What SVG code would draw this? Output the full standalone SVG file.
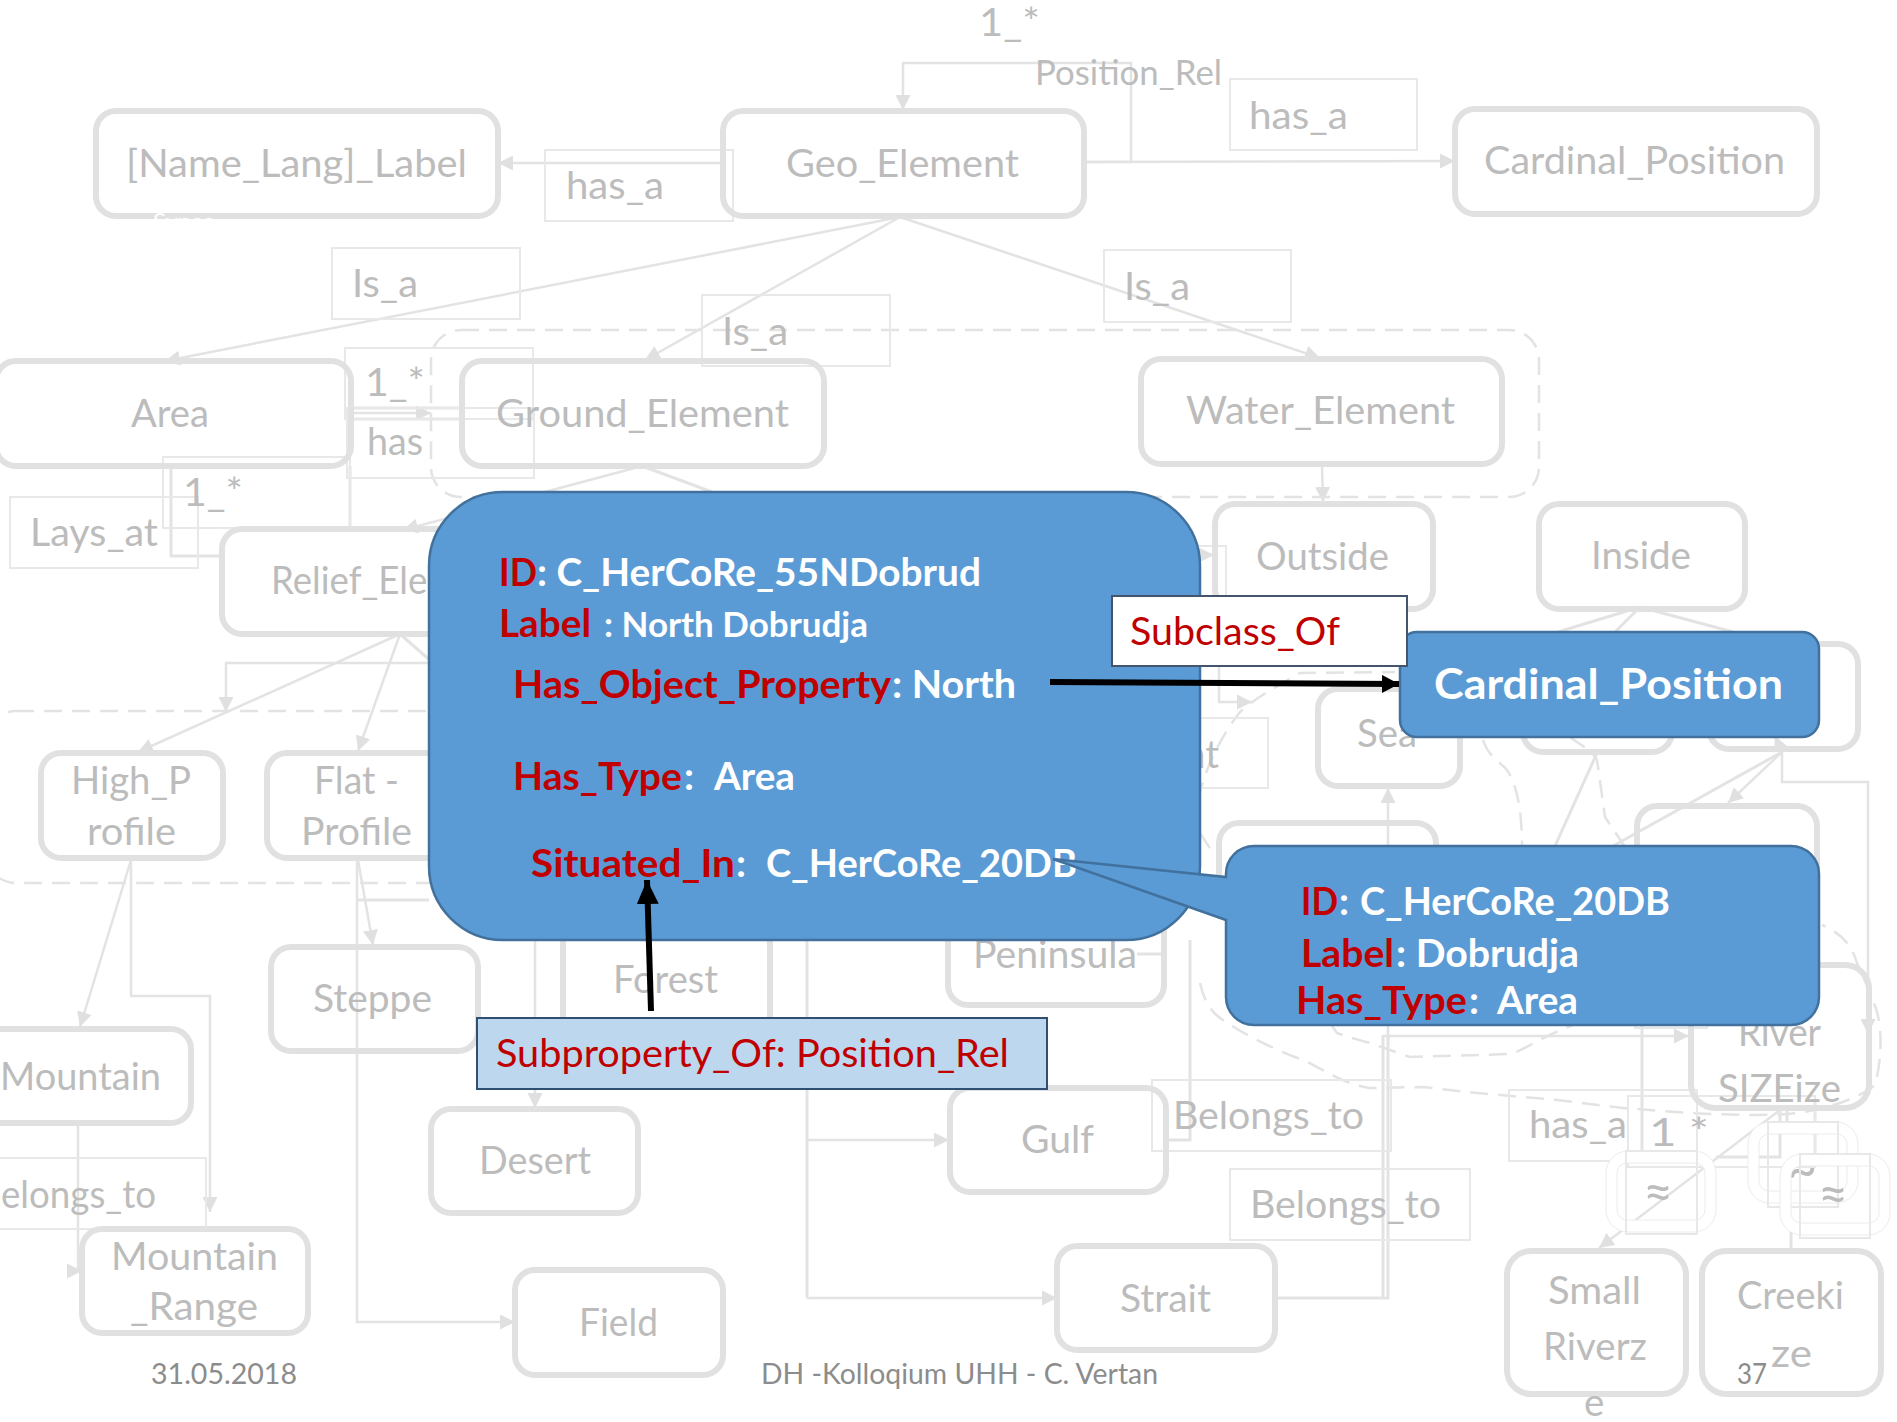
<svg xmlns="http://www.w3.org/2000/svg" width="1897" height="1422" viewBox="0 0 1897 1422">
<style>
text{font-family:"Lato","Liberation Sans",sans-serif}
.t{font-size:38.5px;fill:#bcbcbc}
.p{font-size:34px;fill:#bcbcbc}
.f{font-size:28px;fill:#8c8c8c}
.n{fill:none;stroke:#e1e1e1;stroke-width:6}
.b{fill:none;stroke:#e8e8e8;stroke-width:2}
.l{fill:none;stroke:#e3e3e3;stroke-width:3}
.h{fill:none;stroke:#e3e3e3;stroke-width:2.5;marker-end:url(#a)}
.d{fill:none;stroke:#e3e3e3;stroke-width:2.5;stroke-dasharray:18 10}
.k{fill:none;stroke:#000;stroke-width:6}
.w{font-size:39px;font-weight:700;fill:#fff}
.r{font-size:39px;font-weight:700;fill:#c00000}
.s{font-size:39px;fill:#c00000}
.u{fill:#5b9bd5;stroke:#41719c;stroke-width:2.5}
.g{fill:#fff;fill-rule:evenodd;stroke:#ececec;stroke-width:1}
.x{font-size:52px;fill:#bcbcbc}
</style>
<defs>
<marker id="a" viewBox="0 0 14 14" refX="14" refY="7" markerWidth="15" markerHeight="15" markerUnits="userSpaceOnUse" orient="auto"><path d="M0,0L14,7L0,14z" fill="#e0e0e0"/></marker>
<marker id="kr" viewBox="0 0 17 18" refX="17" refY="9" markerWidth="17" markerHeight="18" markerUnits="userSpaceOnUse" orient="auto"><path d="M0,0L17,9L0,18z" fill="#000"/></marker>
<marker id="ku" viewBox="0 0 24 22" refX="24" refY="11" markerWidth="24" markerHeight="22" markerUnits="userSpaceOnUse" orient="auto"><path d="M0,0L24,11L0,22z" fill="#000"/></marker>
<path id="ring" class="g" d="M22,0H88A22,22 0 0 1 110,22V59A22,22 0 0 1 88,81H22A22,22 0 0 1 0,59V22A22,22 0 0 1 22,0ZM21,12A10,10 0 0 0 11,22V59A10,10 0 0 0 21,69H89A10,10 0 0 0 99,59V22A10,10 0 0 0 89,12Z"/>
</defs>
<rect width="1897" height="1422" fill="#fff"/>

<g id="connectors">
<path class="h" d="M900,217L165,361"/>
<path class="h" d="M900,217L645,360"/>
<path class="h" d="M900,217L1320,358"/>
<path class="h" d="M1084,162H1131V63H903V110"/>
<path class="h" d="M1084,162L1455,161"/>
<path class="h" d="M722,163H498"/>
<path class="h" d="M351,413H431"/>
<path class="l" d="M351,408H462M351,419H462"/>
<path class="l" d="M350,466V528M171,466V556H221"/>
<path class="h" d="M642,466L403,530"/>
<path class="l" d="M642,466L712,492"/>
<path class="h" d="M400,634L138,752"/>
<path class="h" d="M400,634L358,751"/>
<path class="l" d="M400,634L432,662"/>
<path class="h" d="M430,663H226V712"/>
<path class="h" d="M131,860L80,1027"/>
<path class="h" d="M131,860V996H210V1212"/>
<path class="h" d="M78,1124V1271H82"/>
<path class="h" d="M358,860L373,945"/>
<path class="h" d="M357,860V1322H515"/>
<path class="l" d="M357,900H429"/>
<path class="h" d="M535,940V1108"/>
<path class="l" d="M807,940V1298"/>
<path class="h" d="M807,1140H949"/>
<path class="h" d="M807,1298H1057"/>
<path class="l" d="M1190,940V1140H1167M1137,954H1164"/>
<path class="l" d="M1276,1298H1388V1036"/>
<path class="l" d="M1383,1298V1035"/>
<path class="h" d="M1383,1036H1689"/>
<path class="h" d="M1388,1040V788"/>
<path class="h" d="M1322,465L1323,502"/>
<path class="h" d="M1200,555H1214"/>
<path class="h" d="M1219,666V702H1252"/>
<path class="l" d="M1640,607L1558,632M1640,607L1615,632M1640,607L1733,632"/>
<path class="l" d="M1597,753L1555,846"/>
<path class="h" d="M1782,752L1775,736"/>
<path class="l" d="M1782,752L1613,846"/>
<path class="h" d="M1782,752L1728,803"/>
<path class="h" d="M1782,752V782H1868V1034"/>
<path class="h" d="M1780,1110L1599,1248"/>
<path class="l" d="M1780,1108V1157H1716M1787,1108V1122M1815,1100V1167M1642,1020V1151M1791,1232V1250"/>
<path class="b" d="M1635,1000V1028H1707V1000"/>
<path class="d" d="M1198,800C1206,765 1222,735 1240,712C1250,702 1270,690 1300,673L1395,672"/>
<path class="d" d="M1483,740C1488,756 1500,762 1507,770C1517,785 1522,810 1522,847"/>
<path class="d" d="M1570,737C1580,745 1592,750 1597,760L1605,817L1625,847"/>
<path class="d" d="M1200,833L1213,853"/>
<path class="d" d="M1200,983C1204,1000 1210,1012 1223,1020C1245,1035 1275,1050 1303,1060C1325,1070 1345,1085 1370,1088L1423,1087L1477,1093L1557,1100L1623,1108L1690,1113C1730,1115 1770,1116 1797,1113C1830,1108 1860,1098 1875,1085C1882,1060 1882,1030 1877,1012C1870,990 1862,975 1857,963C1852,945 1840,932 1822,925"/>
<path class="d" d="M1330,1023L1337,1033C1350,1038 1360,1040 1370,1043L1410,1057L1510,1054C1525,1050 1535,1040 1573,1025"/>
<rect class="d" x="431" y="330" width="1108" height="167" rx="30"/>
<rect class="d" x="-14" y="711" width="474" height="172" rx="30"/>
</g>

<g id="lbl-has-a-1"><rect class="b" x="545" y="150" width="188" height="71"/><text class="t" x="566" y="199" textLength="98" lengthAdjust="spacingAndGlyphs">has_a</text></g>
<g id="lbl-has-a-2"><rect class="b" x="1230" y="79" width="187" height="71"/><text class="t" x="1249" y="129" textLength="99" lengthAdjust="spacingAndGlyphs">has_a</text></g>
<g id="lbl-card"><text class="t" x="979" y="36" textLength="61" lengthAdjust="spacingAndGlyphs">1_*</text></g>
<g id="lbl-pos"><text class="p" x="1035" y="85" textLength="187" lengthAdjust="spacingAndGlyphs">Position_Rel</text></g>
<g id="lbl-isa-1"><rect class="b" x="332" y="248" width="188" height="71"/><text class="t" x="352" y="297" textLength="66" lengthAdjust="spacingAndGlyphs">Is_a</text></g>
<g id="lbl-isa-2"><rect class="b" x="702" y="295" width="188" height="71"/><text class="t" x="722" y="345" textLength="66" lengthAdjust="spacingAndGlyphs">Is_a</text></g>
<g id="lbl-isa-3"><rect class="b" x="1104" y="250" width="187" height="72"/><text class="t" x="1124" y="300" textLength="66" lengthAdjust="spacingAndGlyphs">Is_a</text></g>
<g id="lbl-1s-a"><rect class="b" x="345" y="348" width="188" height="71"/><text class="t" x="365" y="396" textLength="60" lengthAdjust="spacingAndGlyphs">1_*</text></g>
<g id="lbl-has"><rect class="b" x="347" y="408" width="187" height="70"/><text class="t" x="367" y="455" textLength="56" lengthAdjust="spacingAndGlyphs">has</text></g>
<g id="lbl-lays"><rect class="b" x="10" y="497" width="188" height="71"/><text class="t" x="30" y="546" textLength="128" lengthAdjust="spacingAndGlyphs">Lays_at</text></g>
<g id="lbl-1s-b"><rect class="b" x="163" y="457" width="187" height="71"/><text class="t" x="183" y="506" textLength="60" lengthAdjust="spacingAndGlyphs">1_*</text></g>
<g id="lbl-bel-0"><rect class="b" x="-30" y="1158" width="236" height="71"/><text class="t" x="1" y="1208" textLength="155" lengthAdjust="spacingAndGlyphs">elongs_to</text></g>
<g id="lbl-bel-1"><rect class="b" x="1152" y="1080" width="239" height="71"/><text class="t" x="1173" y="1129" textLength="191" lengthAdjust="spacingAndGlyphs">Belongs_to</text></g>
<g id="lbl-bel-2"><rect class="b" x="1230" y="1169" width="240" height="71"/><text class="t" x="1250" y="1218" textLength="191" lengthAdjust="spacingAndGlyphs">Belongs_to</text></g>
<g id="lbl-nt"><rect class="b" x="1150" y="718" width="118" height="70"/><text class="t" x="1219" y="768" text-anchor="end">nt</text></g>
<g id="lbl-small-box"><rect class="b" x="1140" y="546" width="86" height="50"/></g>
<g id="lbl-has-a-3"><rect class="b" x="1509" y="1090" width="188" height="71"/><text class="t" x="1529" y="1138" textLength="98" lengthAdjust="spacingAndGlyphs">has_a</text></g>
<g id="lbl-1s-c"><rect class="b" x="1628" y="1096" width="187" height="71"/><text class="t" x="1649" y="1146" textLength="60" lengthAdjust="spacingAndGlyphs">1 *</text></g>

<g id="node-name"><rect class="n" x="96" y="111" width="402" height="105" rx="20"/><text class="t" x="126" y="177" textLength="341" lengthAdjust="spacingAndGlyphs">[Name_Lang]_Label</text><text x="153" y="230" font-size="24" fill="#fff">Synaa</text></g>
<g id="node-geo"><rect class="n" x="723" y="111" width="361" height="105" rx="20"/><text class="t" x="786" y="177" textLength="233" lengthAdjust="spacingAndGlyphs">Geo_Element</text></g>
<g id="node-card-top"><rect class="n" x="1455" y="109" width="362" height="105" rx="20"/><text class="t" x="1484" y="174" textLength="301" lengthAdjust="spacingAndGlyphs">Cardinal_Position</text></g>
<g id="node-area"><rect class="n" x="-4" y="361" width="355" height="105" rx="20"/><text class="t" x="131" y="427" textLength="78" lengthAdjust="spacingAndGlyphs">Area</text></g>
<g id="node-ground"><rect class="n" x="462" y="361" width="362" height="105" rx="20"/><text class="t" x="496" y="427" textLength="293" lengthAdjust="spacingAndGlyphs">Ground_Element</text></g>
<g id="node-water"><rect class="n" x="1141" y="359" width="361" height="105" rx="20"/><text class="t" x="1186" y="424" textLength="269" lengthAdjust="spacingAndGlyphs">Water_Element</text></g>
<g id="node-outside"><rect class="n" x="1215" y="504" width="218" height="105" rx="20"/><text class="t" x="1256" y="570" textLength="133" lengthAdjust="spacingAndGlyphs">Outside</text></g>
<g id="node-inside"><rect class="n" x="1539" y="504" width="206" height="105" rx="20"/><text class="t" x="1591" y="569" textLength="100" lengthAdjust="spacingAndGlyphs">Inside</text></g>
<g id="node-relief"><rect class="n" x="222" y="529" width="330" height="105" rx="20"/><text class="t" x="271" y="594" textLength="239" lengthAdjust="spacingAndGlyphs">Relief_Element</text></g>
<g id="node-high"><rect class="n" x="41" y="753" width="182" height="105" rx="20"/><text class="t" x="71" y="794" textLength="120" lengthAdjust="spacingAndGlyphs">High_P</text><text class="t" x="87" y="845" textLength="89" lengthAdjust="spacingAndGlyphs">rofile</text></g>
<g id="node-flat"><rect class="n" x="267" y="753" width="210" height="105" rx="20"/><text class="t" x="314" y="794" textLength="85" lengthAdjust="spacingAndGlyphs">Flat -</text><text class="t" x="301" y="845" textLength="111" lengthAdjust="spacingAndGlyphs">Profile</text></g>
<g id="node-steppe"><rect class="n" x="271" y="947" width="207" height="104" rx="20"/><text class="t" x="313" y="1012" textLength="119" lengthAdjust="spacingAndGlyphs">Steppe</text></g>
<g id="node-mountain"><rect class="n" x="-30" y="1029" width="221" height="94" rx="20"/><text class="t" x="0" y="1090" textLength="161" lengthAdjust="spacingAndGlyphs">Mountain</text></g>
<g id="node-range"><rect class="n" x="82" y="1229" width="226" height="104" rx="20"/><text class="t" x="111" y="1270" textLength="167" lengthAdjust="spacingAndGlyphs">Mountain</text><text class="t" x="130" y="1320" textLength="128" lengthAdjust="spacingAndGlyphs">_Range</text></g>
<g id="node-desert"><rect class="n" x="431" y="1109" width="207" height="104" rx="20"/><text class="t" x="479" y="1174" textLength="112" lengthAdjust="spacingAndGlyphs">Desert</text></g>
<g id="node-field"><rect class="n" x="515" y="1270" width="208" height="105" rx="20"/><text class="t" x="579" y="1336" textLength="79" lengthAdjust="spacingAndGlyphs">Field</text></g>
<g id="node-forest"><rect class="n" x="563" y="900" width="207" height="160" rx="20"/><text class="t" x="613" y="993" textLength="105" lengthAdjust="spacingAndGlyphs">Forest</text></g>
<g id="node-peninsula"><rect class="n" x="948" y="880" width="216" height="125" rx="20"/><text class="t" x="973" y="968" textLength="164" lengthAdjust="spacingAndGlyphs">Peninsula</text></g>
<g id="node-gulf"><rect class="n" x="950" y="1088" width="216" height="104" rx="20"/><text class="t" x="1021" y="1153" textLength="73" lengthAdjust="spacingAndGlyphs">Gulf</text></g>
<g id="node-strait"><rect class="n" x="1057" y="1246" width="218" height="104" rx="20"/><text class="t" x="1120" y="1312" textLength="91" lengthAdjust="spacingAndGlyphs">Strait</text></g>
<g id="node-sea"><rect class="n" x="1318" y="689" width="142" height="97" rx="20"/><text class="t" x="1357" y="747" textLength="60" lengthAdjust="spacingAndGlyphs">Sea</text></g>
<g id="node-hidden-a"><rect class="n" x="1219" y="823" width="217" height="100" rx="20"/></g>
<g id="node-hidden-b"><rect class="n" x="1523" y="660" width="149" height="92" rx="20"/></g>
<g id="node-hidden-c"><rect class="n" x="1709" y="644" width="149" height="105" rx="20"/></g>
<g id="node-hidden-d"><rect class="n" x="1637" y="806" width="180" height="110" rx="20"/></g>
<g id="node-river"><rect class="n" x="1691" y="965" width="178" height="143" rx="24"/><text class="t" x="1738" y="1046" textLength="83" lengthAdjust="spacingAndGlyphs">River</text><text class="t" x="1718" y="1102" textLength="123" lengthAdjust="spacingAndGlyphs">SIZEize</text></g>
<g id="node-small"><rect class="n" x="1507" y="1251" width="179" height="143" rx="24"/><text class="t" x="1548" y="1304" textLength="93" lengthAdjust="spacingAndGlyphs">Small</text><text class="t" x="1543" y="1360" textLength="104" lengthAdjust="spacingAndGlyphs">Riverz</text><text class="t" x="1584" y="1416">e</text></g>
<g id="node-creek"><rect class="n" x="1702" y="1251" width="179" height="143" rx="24"/><text class="t" x="1737" y="1309" textLength="107" lengthAdjust="spacingAndGlyphs">Creeki</text><text class="t" x="1771" y="1367" textLength="41" lengthAdjust="spacingAndGlyphs">ze</text></g>

<g id="node-ring-1"><use href="#ring" x="1606" y="1151"/><rect class="b" x="1626" y="1151" width="71" height="83"/><text class="x" x="1658" y="1210" text-anchor="middle">≈</text></g>
<g id="node-ring-2"><use href="#ring" x="1748" y="1122"/><rect class="b" x="1768" y="1122" width="70" height="85"/><text class="x" x="1802" y="1188" text-anchor="middle">~</text></g>
<g id="node-ring-3"><use href="#ring" x="1780" y="1154"/><rect class="b" x="1800" y="1154" width="70" height="84"/><text class="x" x="1833" y="1212" text-anchor="middle">≈</text></g>

<g id="footer"><text class="f" x="151" y="1384" textLength="146" lengthAdjust="spacingAndGlyphs">31.05.2018</text><text class="f" x="761" y="1384" textLength="397" lengthAdjust="spacingAndGlyphs">DH -Kolloqium UHH - C. Vertan</text><text class="f" x="1737" y="1384" textLength="30" lengthAdjust="spacingAndGlyphs">37</text></g>

<g id="node-main">
<rect class="u" x="429" y="492" width="771" height="448" rx="74"/>
<text class="r" x="499" y="586" textLength="38" lengthAdjust="spacingAndGlyphs">ID</text>
<text class="w" x="537" y="586" textLength="444" lengthAdjust="spacingAndGlyphs">: C_HerCoRe_55NDobrud</text>
<text class="r" x="499" y="637" textLength="92" lengthAdjust="spacingAndGlyphs">Label</text>
<text class="w" x="604" y="637" textLength="264" lengthAdjust="spacingAndGlyphs" style="font-size:34px">: North Dobrudja</text>
<text class="r" x="513" y="698" textLength="378" lengthAdjust="spacingAndGlyphs">Has_Object_Property</text>
<text class="w" x="892" y="698" textLength="124" lengthAdjust="spacingAndGlyphs">: North</text>
<text class="r" x="513" y="790" textLength="169" lengthAdjust="spacingAndGlyphs">Has_Type</text>
<text class="w" x="684" y="790">:</text>
<text class="w" x="714" y="790" textLength="81" lengthAdjust="spacingAndGlyphs">Area</text>
<text class="r" x="531" y="877" textLength="204" lengthAdjust="spacingAndGlyphs">Situated_In</text>
<text class="w" x="736" y="877">:</text>
<text class="w" x="766" y="877" textLength="311" lengthAdjust="spacingAndGlyphs">C_HerCoRe_20DB</text>
</g>

<g id="node-callout">
<path class="u" d="M1254,846H1791A28,28 0 0 1 1819,874V997A28,28 0 0 1 1791,1025H1254A28,28 0 0 1 1226,997V920L1053,859L1226,877V874A28,28 0 0 1 1254,846Z"/>
<text class="r" x="1301" y="915" textLength="37" lengthAdjust="spacingAndGlyphs">ID</text>
<text class="w" x="1339" y="915">:</text>
<text class="w" x="1360" y="915" textLength="310" lengthAdjust="spacingAndGlyphs">C_HerCoRe_20DB</text>
<text class="r" x="1301" y="967" textLength="93" lengthAdjust="spacingAndGlyphs">Label</text>
<text class="w" x="1396" y="967" textLength="183" lengthAdjust="spacingAndGlyphs">: Dobrudja</text>
<text class="r" x="1296" y="1014" textLength="171" lengthAdjust="spacingAndGlyphs">Has_Type</text>
<text class="w" x="1469" y="1014">:</text>
<text class="w" x="1497" y="1014" textLength="81" lengthAdjust="spacingAndGlyphs">Area</text>
</g>

<g id="node-cardinal"><rect class="u" x="1400" y="632" width="419" height="105" rx="17"/><text class="w" x="1434" y="699" textLength="349" lengthAdjust="spacingAndGlyphs" style="font-size:42px">Cardinal_Position</text></g>
<g id="node-subclass"><rect x="1112" y="596" width="295" height="70" fill="#fff" stroke="#44546a" stroke-width="2"/><text class="s" x="1130" y="645" textLength="210" lengthAdjust="spacingAndGlyphs">Subclass_Of</text></g>
<g id="node-subproperty"><rect x="477" y="1018" width="570" height="71" fill="#bdd7ee" stroke="#2f5071" stroke-width="2"/><text class="s" x="496" y="1067" textLength="513" lengthAdjust="spacingAndGlyphs">Subproperty_Of: Position_Rel</text></g>

<g id="connectors-top">
<path class="k" d="M1050,682L1399,684" marker-end="url(#kr)"/>
<path class="k" d="M651,1011L647,880" marker-end="url(#ku)"/>
</g>
</svg>
